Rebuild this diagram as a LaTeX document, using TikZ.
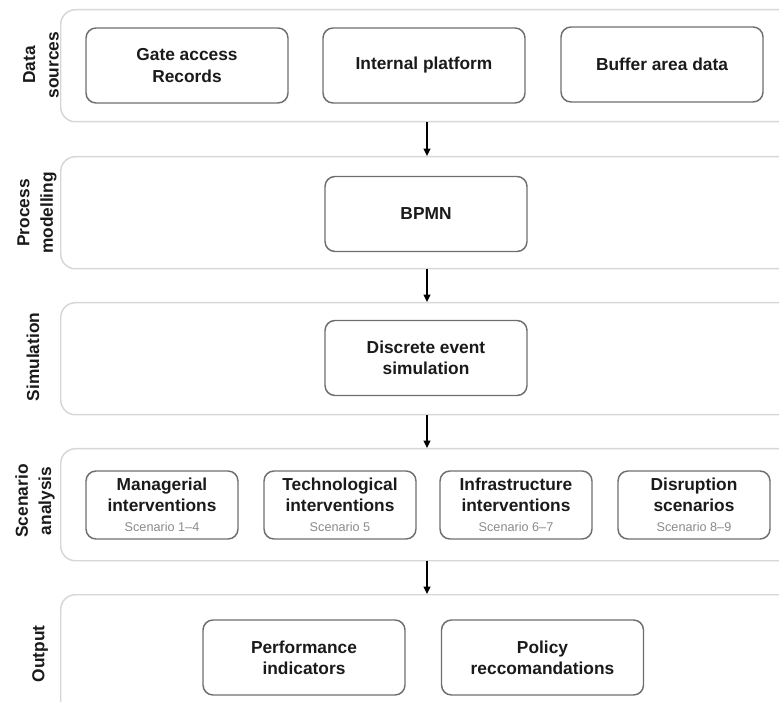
\documentclass[tikz,border=0pt]{standalone}
\usepackage{fontspec}
\setmainfont{Liberation Sans}
\usetikzlibrary{arrows.meta}
\definecolor{bandgray}{HTML}{D6D6D6}
\definecolor{boxgray}{HTML}{6E6E6E}
\definecolor{scengray}{HTML}{8A8A8A}
\definecolor{txt}{HTML}{1A1A1A}
\begin{document}
\begin{tikzpicture}[x=0.75pt,y=-0.75pt,
  band/.style={draw=bandgray, line width=1.1pt, rounded corners=11pt, anchor=north west, inner sep=0pt, minimum width=555pt},
  box/.style={draw=boxgray, line width=1.1pt, rounded corners=7.5pt, align=center, text=txt,
    font=\fontsize{13}{16}\selectfont\bfseries, minimum width=151.5pt, minimum height=56.25pt, inner sep=0pt},
  sbox/.style={box, minimum width=114pt, minimum height=51pt},
  lane/.style={rotate=90, align=center, text=txt, font=\fontsize{13}{17.5}\selectfont\bfseries},
  flow/.style={-{Triangle[length=5.5pt,width=5pt]}, line width=1.1pt, black}]
\useasboundingbox (0,0) rectangle (779,702);
\clip (0,0) rectangle (779,702);
% bands
\node[band, minimum height=84pt] (b1) at (60,9) {};
\node[band, minimum height=84pt] (b2) at (60,156) {};
\node[band, minimum height=84pt] (b3) at (60,302) {};
\node[band, minimum height=84pt] (b4) at (60,448) {};
\node[band, minimum height=100pt] (b5) at (60,594) {};
% lane labels
\node[lane] (l1) at (41,65) {Data\\sources};
\node[lane] (l2) at (37,213) {Process\\modelling};
\node[lane] (l3) at (33,357) {Simulation};
\node[lane] (l4) at (35,501) {Scenario\\analysis};
\node[lane] (l5) at (40,654) {Output};
% data sources
\node[box] (gate) at (187,65.5) {Gate access\\Records};
\node[box] (plat) at (424,65.5) {Internal platform};
\node[box] (buf) at (662,64.5) {Buffer area data};
% process modelling
\node[box] (bpmn) at (426,214) {BPMN};
% simulation
\node[box] (des) at (426,358) {Discrete event\\simulation};
% scenario analysis
\newcommand{\scen}[1]{\\[-1pt]{\fontsize{9.5}{12}\selectfont\mdseries\color{scengray}#1}}
\node[sbox] (man) at (162,505) {Managerial\\interventions\scen{Scenario 1–4}};
\node[sbox] (tech) at (340,505) {Technological\\interventions\scen{Scenario 5}};
\node[sbox] (infra) at (516,505) {Infrastructure\\interventions\scen{Scenario 6–7}};
\node[sbox] (dis) at (694,505) {Disruption\\scenarios\scen{Scenario 8–9}};
% output
\node[box] (perf) at (304,657.5) {Performance\\indicators};
\node[box] (pol) at (542.5,657.5) {Policy\\reccomandations};
% arrows
\draw[flow] (b1.south -| 427,0) -- (b2.north -| 427,0);
\draw[flow] (b2.south -| 427,0) -- (b3.north -| 427,0);
\draw[flow] (b3.south -| 427,0) -- (b4.north -| 427,0);
\draw[flow] (b4.south -| 427,0) -- (b5.north -| 427,0);
\end{tikzpicture}
\end{document}
